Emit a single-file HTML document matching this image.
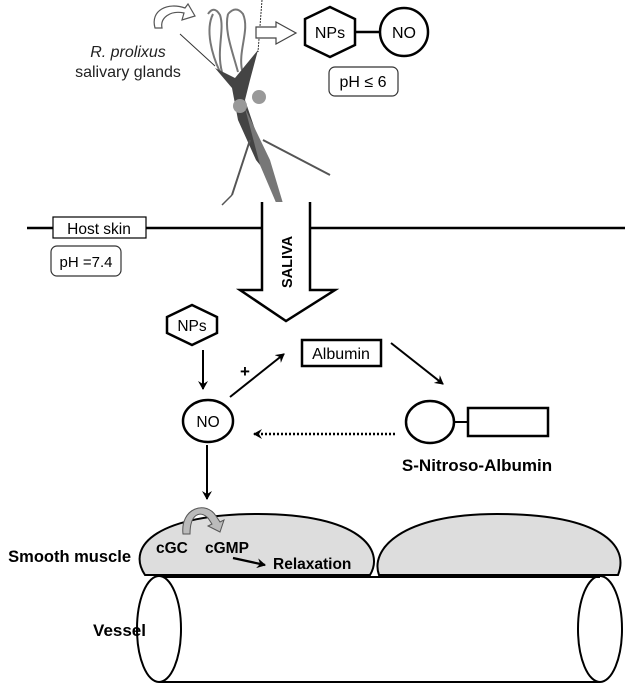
<!DOCTYPE html>
<html><head><meta charset="utf-8"><style>
html,body{margin:0;padding:0;background:#fff;}
svg{display:block;font-family:"Liberation Sans",Arial,sans-serif;}
</style></head><body>
<svg width="625" height="685" viewBox="0 0 625 685" xmlns="http://www.w3.org/2000/svg">
<defs>
<marker id="ah" markerWidth="10" markerHeight="10" refX="8" refY="5" orient="auto" markerUnits="userSpaceOnUse"><path d="M0,0 L9,5 L0,10 L3,5 Z" fill="#000"/></marker>
</defs>
<!-- insect -->
<g>
<path d="M213,14 C205,30 212,55 220,72 M222,72 C216,50 225,30 220,15 Q214,5 208,14" fill="none" stroke="#777" stroke-width="2"/>
<path d="M228,14 C224,30 232,50 238,72 M242,70 C238,50 250,30 243,14 Q236,5 228,14" fill="none" stroke="#777" stroke-width="2"/>
<line x1="180" y1="34" x2="215" y2="66" stroke="#333" stroke-width="1"/>
<line x1="262" y1="0" x2="258" y2="52" stroke="#333" stroke-width="1" stroke-dasharray="2,1"/>
<path d="M215,68 L235,78 L258,50 L250,80 L245,100 L262,150 L268,175 L256,160 L238,120 L232,88 Z" fill="#444"/>
<circle cx="240" cy="106" r="7" fill="#999"/><circle cx="259" cy="97" r="7" fill="#999"/>
<path d="M245,108 L270,160 L285,210 L280,212 L260,165 Z" fill="#777"/>
<line x1="250" y1="140" x2="232" y2="195" stroke="#555" stroke-width="2"/>
<line x1="232" y1="195" x2="222" y2="205" stroke="#555" stroke-width="1.5"/>
<line x1="263" y1="140" x2="330" y2="175" stroke="#555" stroke-width="2"/>
</g>
<path d="M155,28 C150,10 168,2 185,8 L188,4 L195,16 L182,20 L184,13 C170,10 160,18 162,28 Z" fill="#fff" stroke="#555" stroke-width="1.2"/>
<text x="128" y="57" font-size="16" font-style="italic" text-anchor="middle" fill="#222">R. prolixus</text>
<text x="128" y="77" font-size="16" text-anchor="middle" fill="#222">salivary glands</text>
<!-- small open arrow -->
<path d="M256,27 L276,27 L276,22 L296,33 L276,44 L276,38 L256,38 Z" fill="#fff" stroke="#444" stroke-width="1.2"/>
<!-- NPs-NO -->
<polygon points="330,7 355,19 355,45 330,57 305,45 305,19" fill="#fff" stroke="#000" stroke-width="2.5"/>
<text x="330" y="38" font-size="16" text-anchor="middle">NPs</text>
<line x1="355" y1="32" x2="380" y2="32" stroke="#000" stroke-width="2.5"/>
<ellipse cx="404" cy="32" rx="24" ry="24" fill="#fff" stroke="#000" stroke-width="2.5"/>
<text x="404" y="38" font-size="16" text-anchor="middle">NO</text>
<rect x="329" y="67" width="69" height="29" rx="6" fill="#fff" stroke="#333" stroke-width="1.2"/>
<text x="363" y="87" font-size="16" text-anchor="middle">pH ≤ 6</text>
<!-- host skin -->
<line x1="27" y1="228" x2="262" y2="228" stroke="#000" stroke-width="2.5"/>
<line x1="310" y1="228" x2="625" y2="228" stroke="#000" stroke-width="2.5"/>
<rect x="53" y="217" width="93" height="21" fill="#fff" stroke="#000" stroke-width="1.2"/>
<text x="99" y="234" font-size="15.5" text-anchor="middle">Host skin</text>
<rect x="51" y="246" width="70" height="30" rx="6" fill="#fff" stroke="#333" stroke-width="1.2"/>
<text x="86" y="267" font-size="15" text-anchor="middle">pH =7.4</text>
<!-- saliva arrow -->
<path d="M262,202 L262,290 L240,290 L286,321 L335,290 L310,290 L310,202" fill="#fff" stroke="#000" stroke-width="2.5"/>
<text transform="translate(292,262) rotate(-90)" font-size="14.5" font-weight="bold" text-anchor="middle">SALIVA</text>
<!-- middle -->
<polygon points="192,305 217,317 217,333 192,345 167,333 167,317" fill="#fff" stroke="#000" stroke-width="2.5"/>
<text x="192" y="331" font-size="15.5" text-anchor="middle">NPs</text>
<line x1="203" y1="350" x2="203" y2="389" stroke="#000" stroke-width="2" marker-end="url(#ah)"/>
<ellipse cx="208" cy="421" rx="25" ry="21" fill="#fff" stroke="#000" stroke-width="2.5"/>
<text x="208" y="427" font-size="15.5" text-anchor="middle">NO</text>
<text x="245" y="377" font-size="17" font-weight="bold" text-anchor="middle">+</text>
<line x1="230" y1="397" x2="284" y2="354" stroke="#000" stroke-width="2" marker-end="url(#ah)"/>
<rect x="302" y="340" width="79" height="26" fill="#fff" stroke="#000" stroke-width="2.5"/>
<text x="341" y="359" font-size="16" text-anchor="middle">Albumin</text>
<line x1="391" y1="343" x2="443" y2="384" stroke="#000" stroke-width="2" marker-end="url(#ah)"/>
<ellipse cx="430" cy="422" rx="24" ry="21" fill="#fff" stroke="#000" stroke-width="2.5"/>
<line x1="454" y1="422" x2="468" y2="422" stroke="#000" stroke-width="2"/>
<rect x="468" y="408" width="80" height="28" fill="#fff" stroke="#000" stroke-width="2.5"/>
<text x="477" y="471" font-size="17" font-weight="bold" text-anchor="middle">S-Nitroso-Albumin</text>
<line x1="395" y1="434" x2="254" y2="434" stroke="#000" stroke-width="2.5" stroke-dasharray="2,2" marker-end="url(#ah)"/>
<line x1="207" y1="445" x2="207" y2="499" stroke="#000" stroke-width="2" marker-end="url(#ah)"/>
<!-- vessel -->
<line x1="159" y1="577" x2="600" y2="577" stroke="#000" stroke-width="2"/>
<line x1="159" y1="682" x2="600" y2="682" stroke="#000" stroke-width="2"/>
<ellipse cx="159" cy="629" rx="22" ry="53" fill="#fff" stroke="#000" stroke-width="2"/>
<ellipse cx="600" cy="629" rx="22" ry="53" fill="none" stroke="#000" stroke-width="2"/>
<text x="146" y="636" font-size="17" font-weight="bold" text-anchor="end">Vessel</text>
<!-- muscles -->
<path d="M379,575 L618,575 C630,545 600,514 497,514 C400,514 370,550 379,575 Z" fill="#ddd" stroke="#000" stroke-width="2"/>
<path d="M145,575 L370,575 C385,550 360,514 258,514 C160,514 125,545 145,575 Z" fill="#ddd" stroke="#000" stroke-width="2"/>
<text x="131" y="562" font-size="16.5" font-weight="bold" text-anchor="end">Smooth muscle</text>
<text x="156" y="553" font-size="15.5" font-weight="bold">cGC</text>
<text x="205" y="553" font-size="15.5" font-weight="bold">cGMP</text>
<text x="273" y="569" font-size="15.5" font-weight="bold">Relaxation</text>
<line x1="233" y1="558" x2="265" y2="565" stroke="#000" stroke-width="2.2" marker-end="url(#ah)"/>
<path d="M183,534 C180,508 206,500 216,516 L220,522 L224,520 L220,532 L208,526 L212,524 L208,518 C200,510 190,514 190,534 Z" fill="#bbb" stroke="#555" stroke-width="1"/>
</svg>
</body></html>
